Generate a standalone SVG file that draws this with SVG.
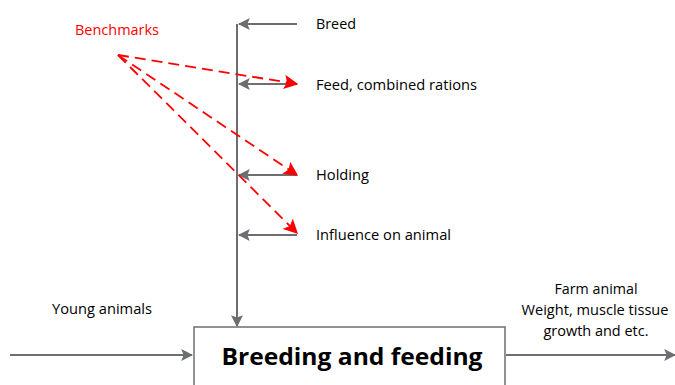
<svg xmlns="http://www.w3.org/2000/svg" width="675" height="385" viewBox="0 0 675 385">
<style>
.t{font-family:"Open Sans","Liberation Sans",sans-serif;font-size:14.5px;fill:#000}
.g{stroke:#6d6e71;stroke-width:2;fill:none}
.r{stroke:#ff0000;stroke-width:1.8;fill:none;stroke-dasharray:11,6}
</style>
<defs>
<marker id="ag" viewBox="0 0 10 10" refX="9" refY="5" markerWidth="6" markerHeight="6" orient="auto" markerUnits="strokeWidth"><path d="M0,0 L10,5 L0,10 L2,5 Z" fill="#6d6e71"/></marker>
<marker id="ar" viewBox="0 0 10 10" refX="9" refY="5" markerWidth="8" markerHeight="8" orient="auto" markerUnits="strokeWidth"><path d="M0,0 L10,5 L0,10 L2,5 Z" fill="#ff0000"/></marker>
</defs>
<g id="connectors">
<line class="g" x1="237" y1="24" x2="237" y2="326" marker-end="url(#ag)"/>
<line class="g" x1="297" y1="24" x2="239" y2="24" marker-end="url(#ag)"/>
<line class="g" x1="297" y1="84" x2="239" y2="84" marker-end="url(#ag)"/>
<line class="g" x1="297" y1="175" x2="239" y2="175" marker-end="url(#ag)"/>
<line class="g" x1="297" y1="235" x2="239" y2="235" marker-end="url(#ag)"/>
<line class="g" x1="10" y1="355" x2="192" y2="355" marker-end="url(#ag)"/>
<line class="g" x1="506" y1="355" x2="675" y2="355" marker-end="url(#ag)"/>
<line class="r" x1="118" y1="55" x2="297" y2="84" marker-end="url(#ar)"/>
<line class="r" x1="118" y1="55" x2="297" y2="175" marker-end="url(#ar)"/>
<line class="r" x1="118" y1="55" x2="297" y2="233" marker-end="url(#ar)"/>
</g>
<g id="benchmarks"><text x="75" y="35" class="t" style="fill:#ff0000" textLength="84" lengthAdjust="spacingAndGlyphs">Benchmarks</text></g>
<g id="breed"><text x="316" y="29" class="t" textLength="40" lengthAdjust="spacingAndGlyphs">Breed</text></g>
<g id="feed"><text x="316" y="90" class="t" textLength="161" lengthAdjust="spacingAndGlyphs">Feed, combined rations</text></g>
<g id="holding"><text x="316" y="180" class="t" textLength="53" lengthAdjust="spacingAndGlyphs">Holding</text></g>
<g id="influence"><text x="316" y="240" class="t" textLength="135" lengthAdjust="spacingAndGlyphs">Influence on animal</text></g>
<g id="young"><text x="52" y="314" class="t" textLength="100" lengthAdjust="spacingAndGlyphs">Young animals</text></g>
<g id="farm">
<text x="596" y="294" class="t" text-anchor="middle" textLength="83" lengthAdjust="spacingAndGlyphs">Farm animal</text>
<text x="595" y="315" class="t" text-anchor="middle" textLength="147" lengthAdjust="spacingAndGlyphs">Weight, muscle tissue</text>
<text x="596" y="336" class="t" text-anchor="middle" textLength="105" lengthAdjust="spacingAndGlyphs">growth and etc.</text>
</g>
<g id="box">
<rect x="194" y="327" width="311" height="70" fill="#fff" stroke="#6d6e71" stroke-width="1.5"/>
<text x="352" y="365" text-anchor="middle" style="font-family:'Open Sans','Liberation Sans',sans-serif;font-weight:bold;font-size:24px" textLength="261" lengthAdjust="spacingAndGlyphs">Breeding and feeding</text>
</g>
</svg>
